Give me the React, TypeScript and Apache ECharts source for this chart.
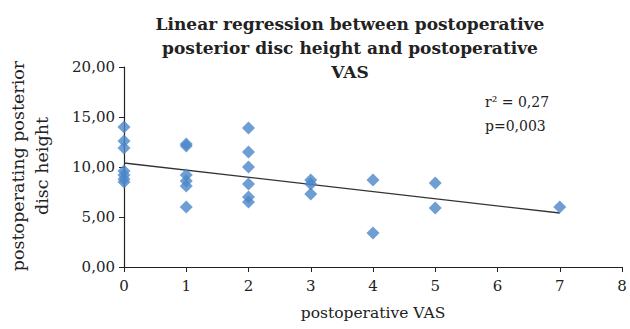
import React, { useEffect, useRef } from "react";
import * as echarts from "echarts";

const vasX: number[] = [0, 0, 0, 0, 0, 0, 0, 1, 1, 1, 1, 1, 1, 2, 2, 2, 2, 2, 2, 3, 3, 3, 4, 4, 5, 5, 7];
const discHeight: number[] = [14.0, 12.6, 11.9, 9.6, 9.2, 8.8, 8.5, 12.3, 12.1, 9.2, 8.6, 8.1, 6.0, 13.9, 11.5, 10.0, 8.3, 7.0, 6.5, 8.7, 8.3, 7.3, 8.7, 3.4, 8.4, 5.9, 6.0];
const trendX: number[] = [0, 7];
const trendY: number[] = [10.4, 5.4];
const titleText = "Linear regression between postoperative\nposterior disc height and postoperative\nVAS";
const statLines: string[] = ["r\u00B2 = 0,27", "p=0,003"];

const SERIF = "'DejaVu Serif', 'Liberation Serif', serif";

export default function App() {
  const ref = useRef<HTMLDivElement>(null);
  useEffect(() => {
    document.body.style.margin = "0";
    document.body.style.overflow = "hidden";
    if (!ref.current) return;
    const chart = echarts.init(ref.current, undefined, { renderer: "svg" });
    chart.setOption({
      animation: false,
      backgroundColor: "#ffffff",
      title: {
        text: titleText,
        left: 345,
        top: 7,
        textAlign: "center",
        textStyle: { fontFamily: SERIF, fontWeight: "bold", fontSize: 17, lineHeight: 24, color: "#222" },
      },
      grid: { left: 124, right: 8, top: 67, bottom: 62 },
      xAxis: {
        type: "value",
        min: 0,
        max: 8,
        interval: 1,
        name: "postoperative VAS",
        nameLocation: "middle",
        nameGap: 38,
        nameTextStyle: { fontFamily: SERIF, fontSize: 15.5, color: "#222" },
        axisLine: { show: true, lineStyle: { color: "#222", width: 1.2 } },
        axisTick: { show: true, inside: false, length: 5, lineStyle: { color: "#222" } },
        axisLabel: { fontFamily: SERIF, fontSize: 15, color: "#222", margin: 11, showMaxLabel: true },
        splitLine: { show: false },
      },
      yAxis: {
        type: "value",
        min: 0,
        max: 20,
        interval: 5,
        axisLine: { show: true, lineStyle: { color: "#222", width: 1.2 } },
        axisTick: { show: true, inside: false, length: 5, lineStyle: { color: "#222" } },
        axisLabel: {
          fontFamily: SERIF,
          fontSize: 15,
          color: "#222",
          margin: 9,
          formatter: (v: number) => v.toFixed(2).replace(".", ","),
        },
        splitLine: { show: false },
      },
      graphic: [
        {
          type: "text",
          x: 30,
          y: 166,
          rotation: Math.PI / 2,
          style: {
            text: "postoperating posterior\ndisc height",
            fontFamily: SERIF,
            fontSize: 17.5,
            lineHeight: 24,
            fill: "#222",
            textAlign: "center",
            textVerticalAlign: "middle",
          },
        },
        {
          type: "text",
          left: 485,
          top: 90,
          style: {
            text: statLines.join("\n"),
            fontFamily: SERIF,
            fontSize: 14,
            lineHeight: 24,
            fill: "#222",
          },
        },
      ],
      series: [
        {
          type: "scatter",
          symbol: "diamond",
          symbolSize: 13,
          itemStyle: { color: "#4A86C8" },
          data: vasX.map((x, i) => [x, discHeight[i]]),
          z: 3,
        },
        {
          type: "line",
          data: trendX.map((x, i) => [x, trendY[i]]),
          symbol: "none",
          lineStyle: { color: "#333", width: 1.3 },
          z: 2,
        },
      ],
    });
    return () => chart.dispose();
  }, []);
  return <div ref={ref} style={{ width: 630, height: 329 }} />;
}
